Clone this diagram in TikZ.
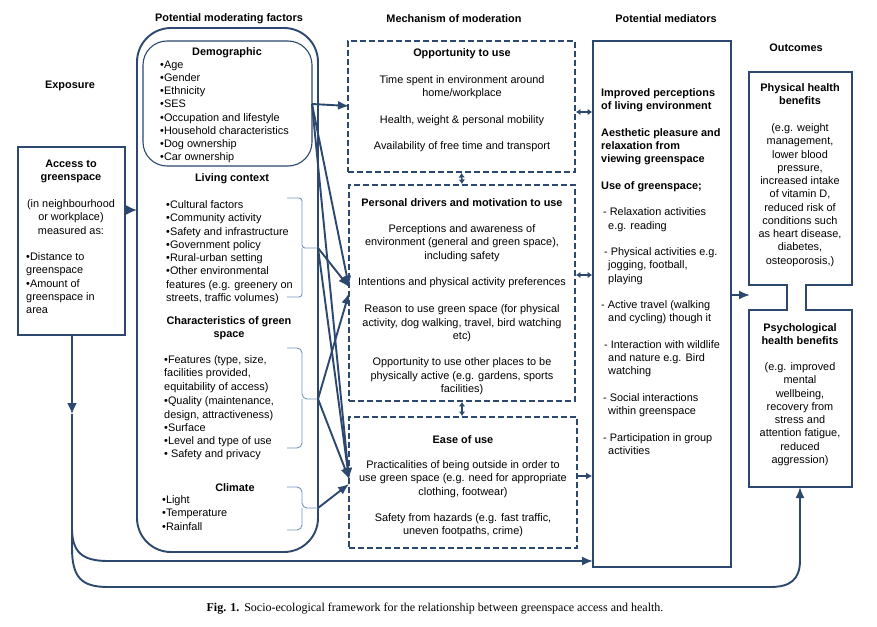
\documentclass[tikz,border=0pt]{standalone}
\usepackage{fontspec}
\setmainfont{Liberation Sans}
\newfontfamily\capfont{Liberation Serif}
\usetikzlibrary{arrows.meta}
\definecolor{navy}{RGB}{44,72,110}
\definecolor{lightnavy}{RGB}{115,150,195}
\begin{document}
\begin{tikzpicture}[x=1pt,y=-1pt,
  every node/.style={inner sep=0pt, text=black},
  txt/.style={font=\fontsize{10.9}{13.25}\selectfont, align=left, yshift=-1.5pt},
  ctxt/.style={font=\fontsize{10.9}{13.25}\selectfont, align=center, yshift=-1.5pt},
  hdr/.style={font=\fontsize{10.9}{13.25}\selectfont\bfseries, align=center, yshift=-1.5pt},
  solidbox/.style={draw=navy, line width=1.9pt},
  dashbox/.style={draw=navy, line width=1.9pt, dash pattern=on 6pt off 3pt},
  bracketline/.style={draw=lightnavy, line width=0.9pt, rounded corners=3pt},
  conn/.style={draw=navy, line width=1.9pt},
  arr/.style={draw=navy, line width=1.9pt, -{Latex[length=11pt,width=9pt]}},
  bigarr/.style={draw=navy, line width=1.9pt, -{Latex[length=11pt,width=10pt]}},
  dbl/.style={draw=navy, line width=1.5pt, {Latex[length=4.5pt,width=6.5pt]}-{Latex[length=4.5pt,width=6.5pt]}},
]
\useasboundingbox (0,0) rectangle (877,626);
\fill[white] (0,0) rectangle (877,626);

% headers
\node[hdr] (hexp) at (70,84) {Exposure};
\node[hdr] (hmod) at (229,17) {Potential moderating factors};
\node[hdr] (hmech) at (454,17) {Mechanism of moderation};
\node[hdr] (hmed) at (666,17) {Potential mediators};
\node[hdr] (hout) at (796,46) {Outcomes};

% exposure box
\node[solidbox, minimum width=107pt, minimum height=188pt] (acc) at (71.5,241) {};
\node[hdr, anchor=north] (acct) at (71,158) {Access to\\greenspace};
\node[ctxt, anchor=north] (accm) at (71,198) {(in neighbourhood\\or workplace)\\measured as:};
\node[txt, anchor=north west] (accl) at (26,251) {•Distance to\\greenspace\\•Amount of\\greenspace in\\area};

% moderating factors
\node[draw=navy, line width=1.9pt, rounded corners=34pt, minimum width=181pt, minimum height=524pt] (mod) at (227.5,290) {};
\node[draw=navy, line width=1.1pt, rounded corners=24pt, minimum width=169pt, minimum height=125pt] (dem) at (227.5,103.5) {};
\node[hdr] (demh) at (227,51) {Demographic};
\node[txt, anchor=north west] (deml) at (160,59) {•Age\\•Gender\\•Ethnicity\\•SES\\•Occupation and lifestyle\\•Household characteristics\\•Dog ownership\\•Car ownership};
\node[hdr] (livh) at (232,177) {Living context};
\node[txt, anchor=north west] (livl) at (166,199) {•Cultural factors\\•Community activity\\•Safety and infrastructure\\•Government policy\\•Rural-urban setting\\•Other environmental\\features (e.g. greenery on\\streets, traffic volumes)};
\node[hdr, anchor=north] (grh) at (229,315) {Characteristics of green\\space};
\node[txt, anchor=north west] (grl) at (164,354) {•Features (type, size,\\facilities provided,\\equitability of access)\\[1.5pt]•Quality (maintenance,\\design, attractiveness)\\•Surface\\•Level and type of use\\• Safety and privacy};
\node[hdr] (clh) at (235,486) {Climate};
\node[txt, anchor=north west] (cll) at (162,494) {•Light\\•Temperature\\•Rainfall};

% brackets
\coordinate (livtip) at (318,248);
\coordinate (grtip) at (318,399);
\coordinate (cltip) at (318,508);
\coordinate (demtip) at (312,104);
\draw[bracketline] (287,198) -- (302,198) -- (302,248) -- (livtip);
\draw[bracketline] (287,297) -- (302,297) -- (302,248);
\draw[bracketline, rounded corners=5pt] (287,348) -- (302,348) -- (302,399) -- (grtip);
\draw[bracketline, rounded corners=5pt] (287,448) -- (302,448) -- (302,399);
\draw[bracketline, rounded corners=5pt] (287,487) -- (302,487) -- (302,508) -- (cltip);
\draw[bracketline, rounded corners=5pt] (287,530) -- (302,530) -- (302,508);

% mechanism boxes
\node[dashbox, minimum width=227pt, minimum height=131pt] (opp) at (461.5,106.5) {};
\node[dashbox, minimum width=226pt, minimum height=216pt] (per) at (462,293) {};
\node[dashbox, minimum width=228pt, minimum height=131pt] (ease) at (463,482.5) {};
\node[hdr] (opph) at (462,52) {Opportunity to use};
\node[ctxt, anchor=north] (oppt) at (462,74) {Time spent in environment around\\home/workplace\\[13.25pt]Health, weight \& personal mobility\\[13.25pt]Availability of free time and transport};
\node[hdr] (perh) at (462,201) {Personal drivers and motivation to use};
\node[ctxt, anchor=north] (pert) at (462,223) {Perceptions and awareness of\\environment (general and green space),\\including safety\\[13.25pt]Intentions and physical activity preferences\\[14pt]Reason to use green space (for physical\\activity, dog walking, travel, bird watching\\etc)\\[13.25pt]Opportunity to use other places to be\\physically active (e.g. gardens, sports\\facilities)};
\node[hdr] (easeh) at (463,438) {Ease of use};
\node[ctxt, anchor=north] (easet) at (463,459) {Practicalities of being outside in order to\\use green space (e.g. need for appropriate\\clothing, footwear)\\[13.25pt]Safety from hazards (e.g. fast traffic,\\uneven footpaths, crime)};

% mediators
\node[draw=navy, line width=1.7pt, minimum width=138pt, minimum height=526pt] (med) at (662,304) {};
\node[txt, anchor=north west] (medt) at (601,87) {\textbf{Improved perceptions}\\
\textbf{of living environment}\\[13.25pt]
\textbf{Aesthetic pleasure and}\\
\textbf{relaxation from}\\
\textbf{viewing greenspace}\\[13.25pt]
\textbf{Use of greenspace;}\\[13.25pt]
\hspace*{2pt}- Relaxation activities\\
\hspace*{7pt}e.g. reading\\[13.25pt]
\hspace*{3pt}- Physical activities e.g.\\
\hspace*{7pt}jogging, football,\\
\hspace*{7pt}playing\\[13.25pt]
- Active travel (walking\\
\hspace*{7pt}and cycling) though it\\[13.25pt]
\hspace*{3pt}- Interaction with wildlife\\
\hspace*{7pt}and nature e.g. Bird\\
\hspace*{7pt}watching\\[13.25pt]
\hspace*{2pt}- Social interactions\\
\hspace*{7pt}within greenspace\\[13.25pt]
\hspace*{2pt}- Participation in group\\
\hspace*{7pt}activities};

% outcomes
\draw[conn, line join=miter] (749,72) -- (852,72) -- (852,285) -- (806,285) -- (806,310) -- (852,310) -- (852,487) -- (749,487) -- (749,310) -- (787,310) -- (787,285) -- (749,285) -- cycle;
\coordinate (outbot) at (800,487);
\node[hdr, anchor=north] (phyh) at (800,82) {Physical health\\benefits};
\node[ctxt, anchor=north] (phyt) at (800,122) {(e.g. weight\\management,\\lower blood\\pressure,\\increased intake\\of vitamin D,\\reduced risk of\\conditions such\\as heart disease,\\diabetes,\\osteoporosis,)};
\node[hdr, anchor=north] (psyh) at (800,322) {Psychological\\health benefits};
\node[ctxt, anchor=north] (psyt) at (800,361) {(e.g. improved\\mental\\wellbeing,\\recovery from\\stress and\\attention fatigue,\\reduced\\aggression)};

% connectors: exposure
\coordinate (modin) at (137,210);
\draw[bigarr] (acc.east |- modin) -- (modin);
\coordinate (midarr) at (72,414);
\coordinate (branch) at (72,528);
\coordinate (medin) at (593,561);
\draw[bigarr] (acc.south -| midarr) -- (midarr);
\draw[conn] (midarr) -- (branch);
\draw[arr] (branch) .. controls (72,552) and (82,561) .. (108,561) -- (medin);
\draw[arr] (branch) -- (72,548) .. controls (72,578) and (82,587) .. (108,587) -- (770,587) .. controls (790,587) and (800,580) .. (800,560) -- (outbot);

% connectors: moderators -> mechanisms
\coordinate (oppin) at (349,106);
\coordinate (perin1) at (349,287);
\coordinate (perin2) at (349,293);
\coordinate (easein1) at (349,479);
\coordinate (easein2) at (349,484);
\draw[arr] (demtip) -- (oppin);
\draw[arr] (demtip) -- (perin1);
\draw[arr] (demtip) -- (easein1);
\draw[arr] (livtip) -- (perin1);
\draw[arr] (livtip) -- (easein1);
\draw[arr] (grtip) -- (perin2);
\draw[arr] (grtip) -- (easein1);
\draw[arr] (cltip) -- (easein2);

% mechanism interconnections
\draw[dbl] (opp.south) -- (per.north);
\draw[dbl] (per.south) -- (ease.north -| per.south);
\draw[dbl] (opp.east |- 0,112) -- (med.west |- 0,112);
\draw[dbl] (per.east |- 0,275) -- (med.west |- 0,275);
\draw[draw=navy, line width=1.5pt, -{Latex[length=6pt,width=7pt]}] (ease.east |- 0,476) -- (med.west |- 0,476);
\draw[arr] (med.east |- 0,295) -- (750,295);

% caption
\node[font=\capfont\fontsize{12}{14}\selectfont] (cap) at (435,609) {\textbf{Fig. 1.}\hspace{5pt}Socio-ecological framework for the relationship between greenspace access and health.};
\end{tikzpicture}
\end{document}
